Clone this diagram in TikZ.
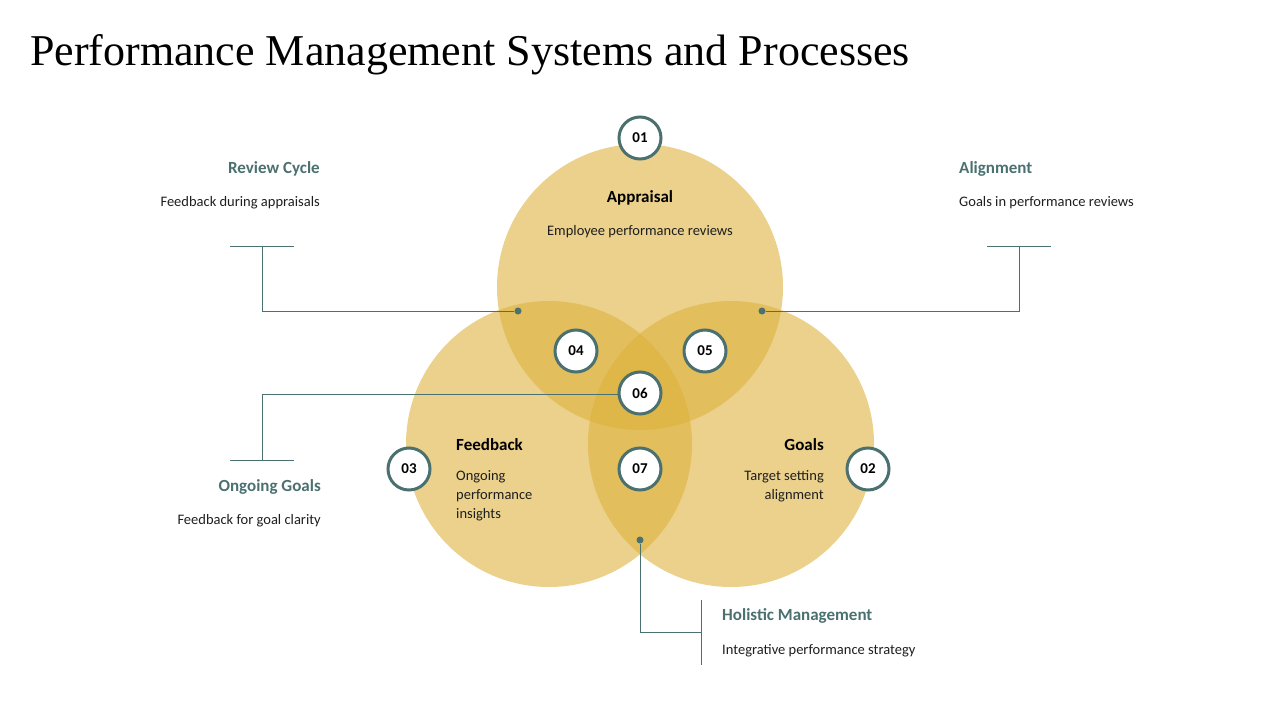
\documentclass[tikz,border=0pt]{standalone}
\usepackage{fontspec}
\setmainfont{Carlito}
\newfontfamily\titlefont{Liberation Serif}
\definecolor{teal}{RGB}{74,112,112}
\definecolor{gold}{RGB}{221,178,61}
\definecolor{txt}{RGB}{30,30,30}
\begin{document}
\begin{tikzpicture}[x=1pt,y=-1pt,
 venn/.style={fill=gold,fill opacity=0.6,draw=none},
 badge/.style={circle,draw=teal,line width=3pt,fill=white,minimum size=42pt,inner sep=0pt,font=\fontsize{15}{18}\selectfont\bfseries,text=black},
 ln/.style={draw=teal,line width=0.9pt},
 dot/.style={circle,fill=teal,inner sep=0pt,minimum size=7pt},
 head/.style={font=\fontsize{17}{20}\selectfont\bfseries,text=teal,inner sep=0pt},
 sub/.style={font=\fontsize{14.5}{19}\selectfont,text=txt,inner sep=0pt},
 chead/.style={font=\fontsize{17}{20}\selectfont\bfseries,text=black,inner sep=0pt}]
\useasboundingbox (0,0) rectangle (1280,720);
\node[anchor=west,inner sep=0pt,font=\titlefont\fontsize{44}{50}\selectfont] (title) at (30,55) {Performance Management Systems and Processes};
\fill[venn] (640,287) circle (143);
\fill[venn] (549,444) circle (143);
\fill[venn] (731,444) circle (143);
% connectors
\node[dot] (d1) at (518,311) {};
\node[dot] (d2) at (762,311) {};
\node[dot] (d3) at (640,540) {};
\coordinate (rc1) at (230,246); \coordinate (rc2) at (294,246); \coordinate (rc3) at (262,246); \coordinate (rc4) at (262,311);
\draw[ln] (rc1) -- (rc2); \draw[ln] (rc3) -- (rc4) -- (d1);
\coordinate (al1) at (987,246); \coordinate (al2) at (1051,246); \coordinate (al3) at (1019,246); \coordinate (al4) at (1019,311);
\draw[ln] (al1) -- (al2); \draw[ln] (al3) -- (al4) -- (d2);
\coordinate (og1) at (230,460); \coordinate (og2) at (294,460); \coordinate (og3) at (262,460); \coordinate (og4) at (262,394);
\coordinate (og5) at (620,394);
\draw[ln] (og1) -- (og2); \draw[ln] (og3) -- (og4) -- (og5);
\coordinate (hm1) at (640,632); \coordinate (hm2) at (701,632); \coordinate (hm3) at (701,600); \coordinate (hm4) at (701,665);
\draw[ln] (d3) -- (hm1) -- (hm2); \draw[ln] (hm3) -- (hm4);
% badges
\node[badge] (b1) at (640,138) {01};
\node[badge] (b2) at (868,469) {02};
\node[badge] (b3) at (409,469) {03};
\node[badge] (b4) at (576,351) {04};
\node[badge] (b5) at (705,351) {05};
\node[badge] (b6) at (640,393) {06};
\node[badge] (b7) at (640,469) {07};
% texts
\node[head,anchor=east] (t1) at (320,169) {Review Cycle};
\node[sub,anchor=east] (s1) at (320,203) {Feedback during appraisals};
\node[head,anchor=west] (t2) at (959,169) {Alignment};
\node[sub,anchor=west] (s2) at (959,203) {Goals in performance reviews};
\node[head,anchor=east] (t3) at (321,487) {Ongoing Goals};
\node[sub,anchor=east] (s3) at (321,521) {Feedback for goal clarity};
\node[head,anchor=west] (t4) at (722,616) {Holistic Management};
\node[sub,anchor=west] (s4) at (722,651) {Integrative performance strategy};
\node[chead] (c1) at (640,198) {Appraisal};
\node[sub] (cs1) at (640,232) {Employee performance reviews};
\node[chead,anchor=west] (c2) at (456,445) {Feedback};
\node[sub,anchor=north west,align=left] (cs2) at (456,470) {Ongoing\\performance\\insights};
\node[chead,anchor=east] (c3) at (824,445) {Goals};
\node[sub,anchor=north east,align=right] (cs3) at (824,470) {Target setting\\alignment};
\end{tikzpicture}
\end{document}
